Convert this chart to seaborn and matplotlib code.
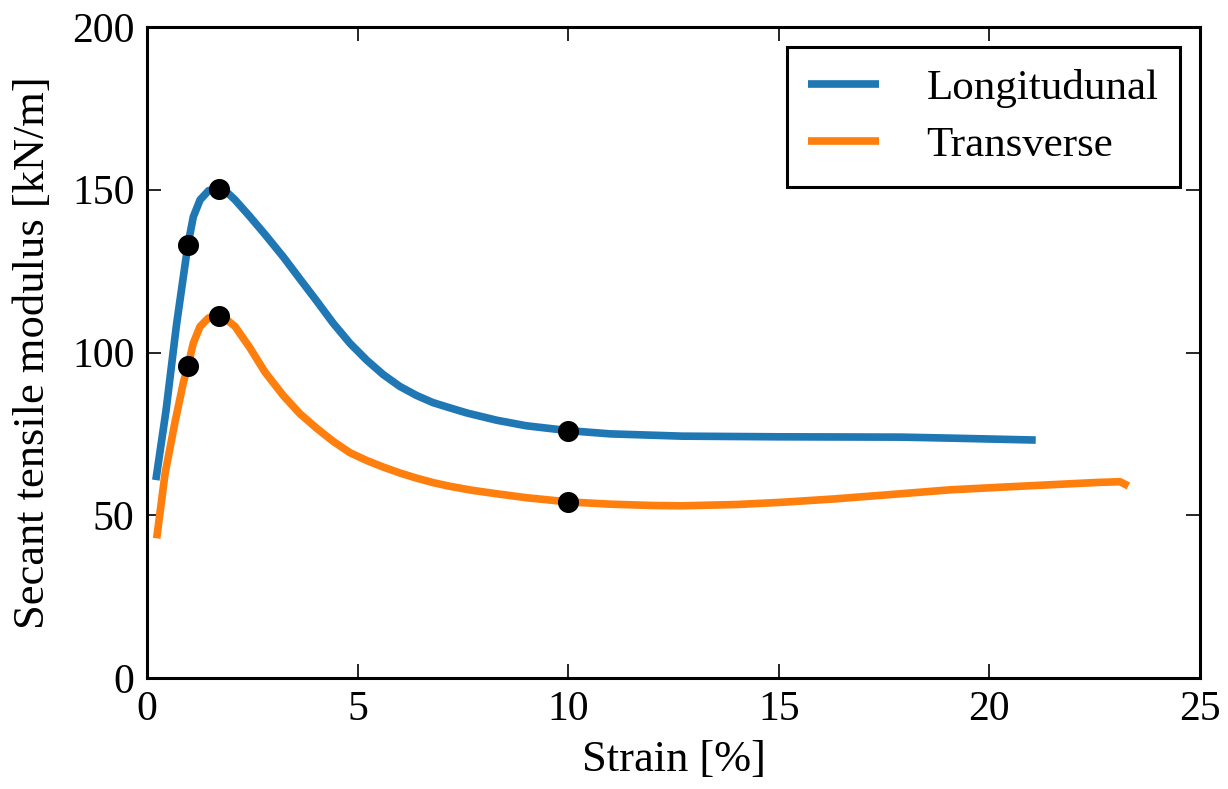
import matplotlib
matplotlib.use("Agg")
import matplotlib.pyplot as plt
import seaborn as sns
import pandas as pd

# Longitudinal curve (strain %, secant modulus kN/m)
long_x = [0.21, 0.45, 0.70, 0.97, 1.10, 1.26, 1.46, 1.70, 1.90, 2.09, 2.44, 2.80, 3.24, 3.63,
          4.03, 4.42, 4.82, 5.22, 5.61, 6.0, 6.4, 6.79, 7.19, 7.6, 8.3, 9.0, 10.0, 11.0,
          12.7, 15.0, 17.9, 19.06, 21.1]
long_y = [60.8, 82.0, 108.5, 133.0, 141.7, 146.9, 149.7, 150.3, 149.2, 146.9, 141.8, 136.3, 129.3, 122.6,
          115.8, 109.0, 102.8, 97.6, 93.2, 89.6, 86.8, 84.6, 83.0, 81.4, 79.2, 77.5, 76.0, 75.0,
          74.3, 74.1, 74.0, 73.7, 73.1]

# Transverse curve
trans_x = [0.23, 0.43, 0.66, 0.86, 0.97, 1.10, 1.26, 1.46, 1.71, 1.90, 2.09, 2.44, 2.80, 3.24,
           3.63, 4.03, 4.42, 4.82, 5.22, 5.61, 6.0, 6.4, 6.8, 7.19, 7.7, 8.3, 9.0, 10.0,
           11.0, 12.0, 12.7, 14.0, 15.1, 16.3, 17.5, 19.06, 20.25, 21.5, 22.6, 23.1, 23.3]
trans_y = [42.9, 62.9, 78.3, 90.6, 95.8, 102.9, 108.0, 110.6, 111.2, 110.0, 108.0, 101.5, 94.0, 86.7,
           81.2, 76.7, 72.7, 69.2, 66.8, 64.8, 63.0, 61.4, 60.0, 58.9, 57.7, 56.6, 55.4, 54.1,
           53.4, 53.0, 52.9, 53.3, 54.0, 55.0, 56.2, 57.8, 58.6, 59.4, 60.1, 60.3, 59.0]

# Marked points
mark_x = [0.97, 1.70, 10.0, 0.97, 1.71, 10.0]
mark_y = [133.0, 150.3, 76.0, 95.8, 111.2, 54.1]

series_names = ["Longitudunal", "Transverse"]
colors = ["#1f77b4", "#ff7f0e"]

sns.set_style("ticks")
plt.rcParams["font.family"] = ["Liberation Serif", "DejaVu Serif"]
plt.rcParams["text.color"] = "black"
plt.rcParams["axes.labelcolor"] = "black"
plt.rcParams["xtick.color"] = "black"
plt.rcParams["ytick.color"] = "black"

fig = plt.figure(figsize=(12.28, 7.89), dpi=100)
ax = fig.add_axes([147 / 1228, 1 - 678 / 789, (1200 - 147) / 1228, (678 - 27) / 789])

df = pd.concat([
    pd.DataFrame({"x": long_x, "y": long_y, "s": series_names[0]}),
    pd.DataFrame({"x": trans_x, "y": trans_y, "s": series_names[1]}),
])
sns.lineplot(data=df, x="x", y="y", hue="s", palette=colors, linewidth=5.5,
             sort=False, estimator=None, ax=ax, solid_joinstyle="round",
             solid_capstyle="butt")

mk = pd.DataFrame({"x": mark_x, "y": mark_y})
sns.scatterplot(data=mk, x="x", y="y", color="black", s=230, edgecolor="black",
                linewidth=0, zorder=5, ax=ax, legend=False)

ax.set_xlim(0, 25)
ax.set_ylim(0, 200)
ax.set_xticks([0, 5, 10, 15, 20, 25])
ax.set_yticks([0, 50, 100, 150, 200])
ax.tick_params(direction="in", length=10, width=1.2, top=True, right=True,
               labelsize=30, pad=9, colors="black")
for sp in ax.spines.values():
    sp.set_linewidth(2.2)
    sp.set_color("black")
ax.set_xlabel("Strain [%]", fontsize=32, labelpad=8, color="black")
ax.set_ylabel("Secant tensile modulus [kN/m]", fontsize=32, labelpad=14, color="black")

leg = ax.legend(loc="upper right", fontsize=31, frameon=True, fancybox=False,
                edgecolor="black", handlelength=1.65, borderpad=0.5,
                handletextpad=1.1, labelspacing=0.42, borderaxespad=0,
                bbox_to_anchor=(0.981, 0.969))
leg.get_frame().set_linewidth(2.2)
leg.get_frame().set_alpha(1)
for t in leg.get_texts():
    t.set_color("black")
for h in leg.get_lines():
    h.set_linewidth(5.5)
    h.set_solid_capstyle("butt")

fig.savefig("out.png", dpi=100)
